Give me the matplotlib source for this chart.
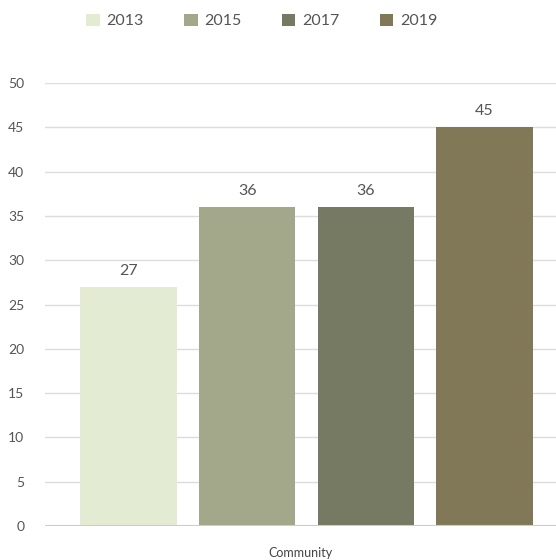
import matplotlib
matplotlib.use("Agg")
import matplotlib.pyplot as plt
from matplotlib.patches import Patch

categories = ["Community"]
years = ["2013", "2015", "2017", "2019"]
values = [27, 36, 36, 45]
colors = ["#e3ecd3", "#a4a88a", "#767a62", "#807856"]
yticks = [0, 5, 10, 15, 20, 25, 30, 35, 40, 45, 50]

plt.rcParams['font.family'] = ['Lato', 'DejaVu Sans']
fig = plt.figure(figsize=(5.56, 5.6), dpi=100)
ax = fig.add_axes([45/556, 34/560, 511/556, 443/560])

pos = list(range(len(years)))
bars = ax.bar(pos, values, width=0.81, color=colors, zorder=3)
for p, v in zip(pos, values):
    ax.text(p, v + 1.0, str(v), ha='center', va='bottom', fontsize=11.5, color='#555555')

ax.set_ylim(0, 50)
ax.set_xlim(-0.703, 3.602)
ax.set_yticks(yticks)
ax.set_yticklabels([str(t) for t in yticks], fontsize=10, color='#555555')
ax.set_xticks([1.45])
ax.set_xticklabels(categories, fontsize=9, color='#444444')
ax.tick_params(axis='y', length=0, pad=15)
ax.tick_params(axis='x', length=0, pad=15)
for s in ax.spines.values():
    s.set_visible(False)
ax.grid(axis='y', color='#dddddd', linewidth=1, zorder=0)
ax.axhline(0, color='#cccccc', linewidth=1.5, zorder=4)

handles = [Patch(facecolor=c, edgecolor='none') for c in colors]
fig.legend(handles, years, loc='center left', bbox_to_anchor=(86/556, 1 - 21/560), ncol=4,
           frameon=False, fontsize=11.5, handlelength=0.85, handleheight=0.85,
           handletextpad=0.4, columnspacing=2.55, labelcolor='#555555',
           borderpad=0, borderaxespad=0)

fig.savefig("out.png", dpi=100)
